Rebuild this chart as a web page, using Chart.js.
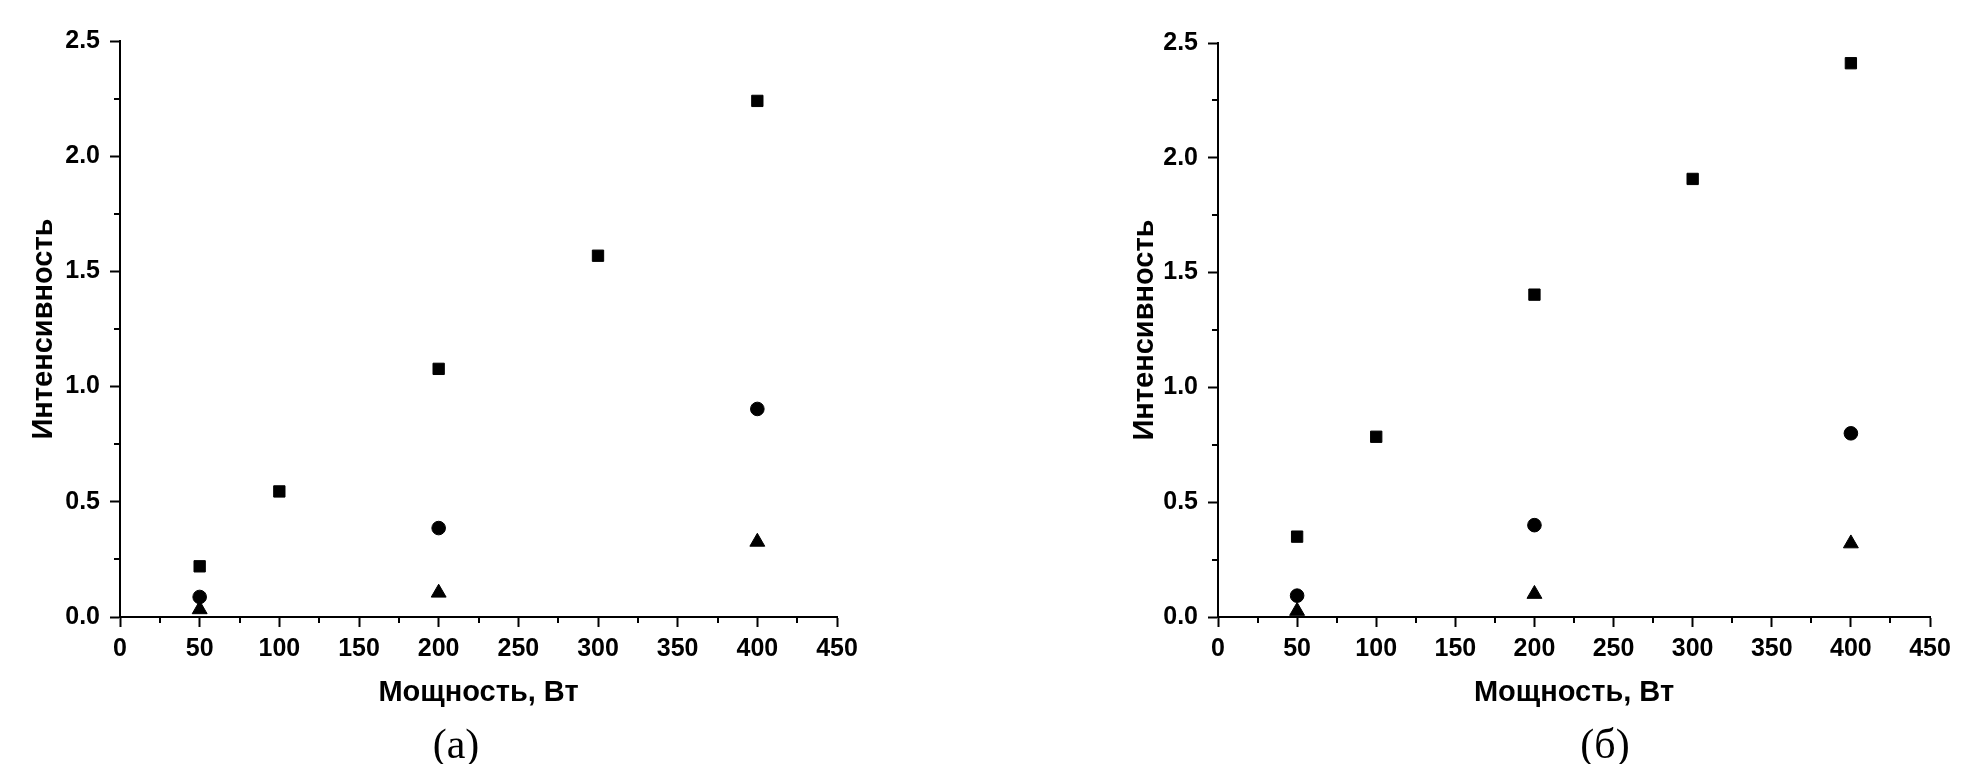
<!DOCTYPE html>
<html><head><meta charset="utf-8">
<script src="https://cdn.jsdelivr.net/npm/chart.js@4.4.0/dist/chart.umd.min.js"></script>
<style>
html,body{margin:0;padding:0;background:#fff;width:1983px;height:764px;overflow:hidden;position:relative}
canvas{position:absolute;top:0}
#cA{left:0}
#cB{left:1000px}
.lab{position:absolute;font-family:'Liberation Serif','Times New Roman',serif;font-size:42px;color:#000;line-height:1;transform:translate(-50%,-50%);white-space:nowrap}
</style></head><body>
<canvas id="cA" width="1000" height="764"></canvas>
<canvas id="cB" width="983" height="764"></canvas>
<div class="lab" style="left:456px;top:744px">(a)</div>
<div class="lab" style="left:1605px;top:744px">(б)</div>
<script>
// ---- data ----
const xSquares = [50, 100, 200, 300, 400];
const xOthers = [50, 200, 400];
const a_squares = [0.22, 0.545, 1.077, 1.568, 2.24];
const a_circles = [0.087, 0.386, 0.903];
const a_triangles = [0.033, 0.105, 0.326];
const b_squares = [0.35, 0.785, 1.404, 1.908, 2.412];
const b_circles = [0.093, 0.40, 0.80];
const b_triangles = [0.026, 0.10, 0.32];
const xMin = 0, xMax = 450, xStep = 50;
const yMin = 0, yMax = 2.5, yStep = 0.5;
const xMinorTicks = [25, 75, 125, 175, 225, 275, 325, 375, 425];
const yMinorTicks = [0.25, 0.75, 1.25, 1.75, 2.25];
const xTitle = 'Мощность, Вт';
const yTitle = 'Интенсивность';

Chart.defaults.font.family = "'Liberation Sans', Arial, sans-serif";
Chart.defaults.color = '#000';

const minorTicks = {
  id: 'minorTicks',
  afterDraw(chart) {
    const ctx = chart.ctx, xs = chart.scales.x, ys = chart.scales.y;
    ctx.save();
    ctx.strokeStyle = '#000';
    ctx.lineWidth = 2;
    ctx.beginPath();
    xMinorTicks.forEach(v => {
      const px = Math.round(xs.getPixelForValue(v));
      ctx.moveTo(px, xs.top); ctx.lineTo(px, xs.top + 6);
    });
    yMinorTicks.forEach(v => {
      const py = Math.round(ys.getPixelForValue(v));
      ctx.moveTo(ys.right, py); ctx.lineTo(ys.right - 6, py);
    });
    ctx.stroke();
    ctx.restore();
  }
};

function pts(xs, ys) { return xs.map((x, i) => ({x: x, y: ys[i]})); }

function makeChart(id, sq, ci, tr, lay) {
  const common = {backgroundColor: '#000', borderColor: '#000', borderWidth: 1, clip: false};
  return new Chart(document.getElementById(id), {
    type: 'scatter',
    data: {
      datasets: [
        Object.assign({label: 's', data: pts(xSquares, sq), pointStyle: 'rect', pointRadius: 8}, common),
        Object.assign({label: 'c', data: pts(xOthers, ci), pointStyle: 'circle', pointRadius: 6.8}, common),
        Object.assign({label: 't', data: pts(xOthers, tr), pointStyle: 'triangle', pointRadius: 8.6}, common)
      ]
    },
    options: {
      responsive: false,
      maintainAspectRatio: false,
      animation: false,
      events: [],
      layout: {padding: {left: lay.padLeft, right: lay.padRight, top: lay.padTop, bottom: 54}},
      plugins: {legend: {display: false}, tooltip: {enabled: false}},
      scales: {
        x: {
          type: 'linear', min: xMin, max: xMax,
          afterFit: s => { s.height = 93; },
          ticks: {stepSize: xStep, padding: 7, font: {size: 25, weight: 'bold'}, color: '#000', maxRotation: 0},
          grid: {drawOnChartArea: false, drawTicks: true, tickLength: 10, tickWidth: 2, tickColor: '#000'},
          border: {display: true, color: '#000', width: 2},
          title: {display: true, text: xTitle, font: {size: 29, weight: 'bold'}, color: '#000', padding: {top: 0, bottom: 0}}
        },
        y: {
          type: 'linear', min: yMin, max: yMax,
          afterFit: s => { s.width = lay.yWidth; },
          ticks: {stepSize: yStep, padding: 10, font: {size: 25, weight: 'bold'}, color: '#000', callback: v => Number(v).toFixed(1)},
          grid: {drawOnChartArea: false, drawTicks: true, tickLength: 10, tickWidth: 2, tickColor: '#000'},
          border: {display: true, color: '#000', width: 2},
          title: {display: true, text: yTitle, font: {size: 29, weight: 'bold'}, color: '#000', padding: {top: lay.yTitlePad, bottom: 0}}
        }
      }
    },
    plugins: [minorTicks]
  });
}

makeChart('cA', a_squares, a_circles, a_triangles, {padLeft: 0, padRight: 163, padTop: 41, yWidth: 120, yTitlePad: 26.5});
makeChart('cB', b_squares, b_circles, b_triangles, {padLeft: 100, padRight: 53, padTop: 43, yWidth: 118, yTitlePad: 27.5});
</script>
</body></html>
